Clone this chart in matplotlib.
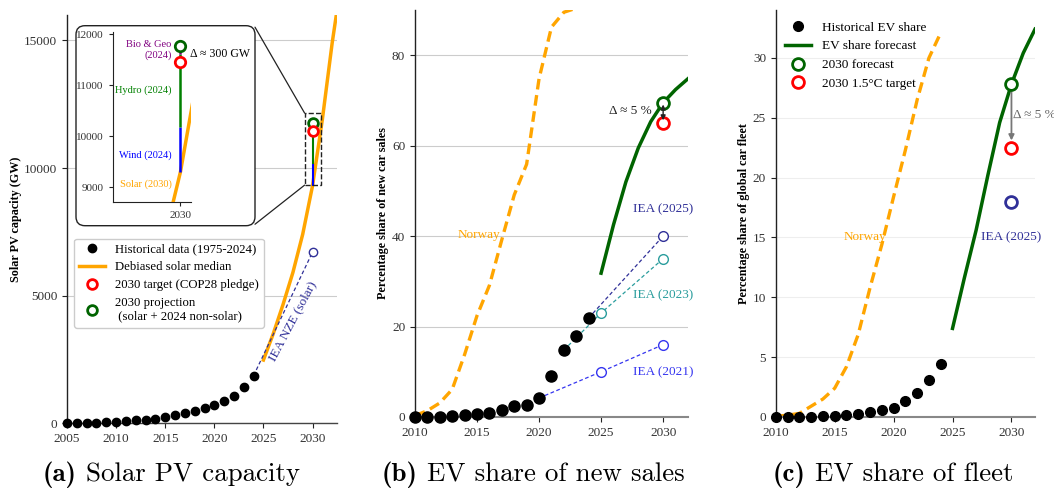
import matplotlib
matplotlib.use('Agg')
import matplotlib.pyplot as plt
from matplotlib.lines import Line2D
from matplotlib.patches import FancyBboxPatch, Rectangle, ConnectionPatch

plt.rcParams['font.family'] = ['Liberation Serif', 'DejaVu Serif']
plt.rcParams['mathtext.fontset'] = 'cm'

# ---------------- data ----------------
# Panel (a): solar PV capacity (GW)
solar_hist_years = list(range(2005, 2025))
solar_hist = [5, 6.5, 9, 15, 23, 40, 71, 100, 137, 175, 225, 300, 395, 490, 590, 710, 860, 1050, 1400, 1860]
solar_fc_years = list(range(2025, 2034))
solar_fc = [2470, 3500, 4650, 5900, 7400, 9300, 11900, 14900, 17500]
iea_nze_years = [2024, 2030]
iea_nze_vals = [1860, 6700]
cop28_target = 11450
solar_2030 = 9300
wind_2024 = 870
hydro_2024 = 1450
biogeo_2024 = 140

# Panel (b): EV share of new car sales (%)
ev_sales_years = list(range(2010, 2025))
ev_sales = [0.01, 0.05, 0.1, 0.2, 0.4, 0.7, 0.9, 1.5, 2.4, 2.6, 4.2, 9.1, 14.8, 17.9, 21.9]
ev_sales_fc_years = list(range(2025, 2033))
ev_sales_fc = [31.8, 42.5, 52.0, 59.5, 65.3, 69.5, 72.4, 74.8]
ev_sales_target = 65.0
norway_years = list(range(2010, 2025))
norway_sales = [0.3, 1.4, 3.1, 6.1, 13.8, 22.4, 29.1, 39.2, 49.1, 55.9, 74.8, 86.2, 89.5, 90.4, 92.0]
iea2025_years = [2024, 2030]
iea2025_sales = [21.9, 40.0]
iea2023_years = [2022, 2025, 2030]
iea2023_sales = [14.8, 23.0, 35.0]
iea2021_years = [2020, 2025, 2030]
iea2021_sales = [4.2, 10.0, 16.0]

# Panel (c): EV share of global car fleet (%)
ev_fleet_years = list(range(2010, 2025))
ev_fleet = [0.0, 0.01, 0.02, 0.04, 0.07, 0.12, 0.18, 0.25, 0.39, 0.58, 0.73, 1.3, 2.0, 3.1, 4.43]
ev_fleet_fc_years = list(range(2025, 2033))
ev_fleet_fc = [7.4, 11.6, 15.6, 20.2, 24.6, 27.8, 30.4, 32.4]
ev_fleet_target = 22.5
iea2025_fleet = 18.0
norway_fleet = [0.05, 0.15, 0.3, 0.9, 1.5, 2.4, 4.2, 6.9, 10.8, 14.4, 18.4, 22.3, 26.5, 30.0, 32.1]

captions = [('(a)', ' Solar PV capacity'), ('(b)', ' EV share of new sales'), ('(c)', ' EV share of fleet')]

# ---------------- colours ----------------
ORANGE = '#FFA500'
DGREEN = '#006400'
NAVY = '#303098'
TEAL = '#2a9d9d'
BLUE21 = '#3535f0'

W, H = 1054, 490
fig = plt.figure(figsize=(W / 100, H / 100), dpi=100)
axA = fig.add_axes([0.0636, 0.1367, 0.2562, 0.8327])
axB = fig.add_axes([0.3937, 0.149, 0.259, 0.8306])
axC = fig.add_axes([0.736, 0.149, 0.246, 0.8306])


def style(ax, gridcolor, bottom_color='#555555', bottom_lw=1.2):
    for s in ['top', 'right']:
        ax.spines[s].set_visible(False)
    ax.spines['left'].set_color('#222222')
    ax.spines['left'].set_linewidth(1.0)
    ax.spines['bottom'].set_color(bottom_color)
    ax.spines['bottom'].set_linewidth(bottom_lw)
    ax.tick_params(labelsize=9.5, colors='#222222', labelcolor='#333333', length=3.5, width=0.8)
    ax.grid(axis='y', color=gridcolor, lw=0.8)
    ax.set_axisbelow(True)


# ---------------- panel (a) ----------------
style(axA, '#cccccc', '#444444', 1.0)
axA.plot(solar_hist_years, solar_hist, 'o', color='black', ms=6, zorder=4, clip_on=False)
axA.plot(solar_fc_years, solar_fc, color=ORANGE, lw=2.5, zorder=3)
axA.plot(iea_nze_years, iea_nze_vals, '--', color=NAVY, lw=0.9, dashes=(3, 2), zorder=3)
axA.plot([iea_nze_years[-1]], [iea_nze_vals[-1]], 'o', mfc='white', mec=NAVY, ms=6, mew=1, zorder=4)
axA.text(2027.95, 4000, 'IEA NZE (solar)', color=NAVY, fontsize=9.5, rotation=62,
         ha='center', va='center', zorder=5)


def draw_stack(ax, ms, lw):
    ax.vlines(2030, solar_2030, solar_2030 + wind_2024, color='blue', lw=lw, zorder=3)
    ax.vlines(2030, solar_2030 + wind_2024, solar_2030 + wind_2024 + hydro_2024, color='green', lw=lw, zorder=3)
    ax.vlines(2030, solar_2030 + wind_2024 + hydro_2024,
              solar_2030 + wind_2024 + hydro_2024 + biogeo_2024, color='purple', lw=lw, zorder=3)
    total = solar_2030 + wind_2024 + hydro_2024 + biogeo_2024
    ax.plot([2030], [total], 'o', mfc='white', mec=DGREEN, ms=ms, mew=2, zorder=5)
    ax.plot([2030], [cop28_target], 'o', mfc='white', mec='red', ms=ms, mew=2, zorder=5)


draw_stack(axA, 7, 1.5)
axA.set_xlim(2005, 2032.5)
axA.set_ylim(0, 16000)
axA.set_xticks([2005, 2010, 2015, 2020, 2025, 2030])
axA.set_yticks([0, 5000, 10000, 15000])
axA.set_ylabel('Solar PV capacity (GW)', fontsize=8.7, fontweight='bold', labelpad=1.5)

# zoom rectangle
rx0, rx1, ry0, ry1 = 2029.2, 2030.9, 9330, 12150
axA.add_patch(Rectangle((rx0, ry0), rx1 - rx0, ry1 - ry0, fill=False, ls='--', lw=1.0,
                        ec='#222222', zorder=6))

# rounded box for inset (figure coords)
bx0, bx1 = 76 / W, 255 / W
by0, by1 = 1 - 225.7 / H, 1 - 25.7 / H
box = FancyBboxPatch((bx0, by0), bx1 - bx0, by1 - by0,
                     boxstyle='round,pad=0,rounding_size=0.0085', mutation_aspect=W / H,
                     transform=fig.transFigure, fc='white', ec='#222222', lw=1.0, zorder=7,
                     clip_on=False)
axA.add_patch(box)
for (fy, dy) in [(by1 - 0.003, ry1), (by0 + 0.003, ry0)]:
    cp = ConnectionPatch(xyA=(bx1, fy), coordsA=fig.transFigure, xyB=(rx0, dy), coordsB=axA.transData,
                         color='#222222', lw=0.9, zorder=6)
    axA.add_artist(cp)

# inset axes
axI = fig.add_axes([112.7 / W, 1 - 202.3 / H, 78.3 / W, 170.6 / H])
axI.set_facecolor('none')
for s in ['top', 'right']:
    axI.spines[s].set_visible(False)
axI.spines['left'].set_color('#222222')
axI.spines['bottom'].set_color('#222222')
axI.tick_params(labelsize=8, colors='#222222', labelcolor='#333333', length=3, width=0.8)
axI.plot(solar_fc_years, solar_fc, color=ORANGE, lw=2.5, zorder=3)
draw_stack(axI, 7.5, 1.8)
axI.set_xlim(2027.1, 2030.45)
axI.set_ylim(8700, 12050)
axI.set_xticks([2030])
axI.set_yticks([9000, 10000, 11000, 12000])
lx = 2029.62
axI.text(lx, 11690, 'Bio & Geo\n(2024)', color='purple', fontsize=7.5, ha='right', va='center',
         multialignment='right', linespacing=1.1)
axI.text(lx, 10900, 'Hydro (2024)', color='green', fontsize=7.5, ha='right', va='center')
axI.text(lx, 9620, 'Wind (2024)', color='blue', fontsize=7.5, ha='right', va='center')
axI.text(lx, 9050, 'Solar (2030)', color=ORANGE, fontsize=7.5, ha='right', va='center')
axI.text(2030.42, 11610, 'Δ ≈ 300 GW', color='black', fontsize=8.5, ha='left', va='center', clip_on=False)

# legend (a)
hA = [Line2D([], [], marker='o', ls='none', color='black', ms=6),
      Line2D([], [], color=ORANGE, lw=2.5),
      Line2D([], [], marker='o', ls='none', mfc='white', mec='red', ms=7, mew=2),
      Line2D([], [], marker='o', ls='none', mfc='white', mec=DGREEN, ms=7, mew=2)]
lA = ['Historical data (1975-2024)', 'Debiased solar median', '2030 target (COP28 pledge)',
      '2030 projection\n (solar + 2024 non-solar)']
legA = axA.legend(hA, lA, loc='upper left', bbox_to_anchor=(0.026, 0.452), borderaxespad=0,
                  fontsize=9.2, frameon=True, framealpha=1, edgecolor='#cccccc', fancybox=True,
                  handlelength=2.0, labelspacing=0.45, borderpad=0.4)
legA.set_zorder(8)

# ---------------- panel (b) ----------------
style(axB, '#cccccc', '#888888', 1.5)
axB.plot(norway_years, norway_sales, color=ORANGE, lw=2.4, dashes=(3.2, 1.7), zorder=2)
axB.text(2016.85, 40.3, 'Norway', color=ORANGE, fontsize=9.5, ha='right', va='center')
axB.plot(iea2025_years, iea2025_sales, color=NAVY, lw=0.9, dashes=(3, 2), zorder=3)
axB.plot(iea2025_years[1:], iea2025_sales[1:], 'o', mfc='white', mec=NAVY, ms=7, mew=1, zorder=4)
axB.plot(iea2023_years, iea2023_sales, color=TEAL, lw=0.9, dashes=(3, 2), zorder=3)
axB.plot(iea2023_years[1:], iea2023_sales[1:], 'o', mfc='white', mec=TEAL, ms=7, mew=1, zorder=4)
axB.plot(iea2021_years, iea2021_sales, color=BLUE21, lw=0.9, dashes=(3, 2), zorder=3)
axB.plot(iea2021_years[1:], iea2021_sales[1:], 'o', mfc='white', mec=BLUE21, ms=7, mew=1, zorder=4)
axB.plot(ev_sales_years, ev_sales, 'o', color='black', ms=8, zorder=5, clip_on=False)
axB.plot(ev_sales_fc_years, ev_sales_fc, color=DGREEN, lw=2.5, zorder=4)
axB.plot([2030], [ev_sales_fc[5]], 'o', mfc='white', mec=DGREEN, ms=8.5, mew=2, zorder=6)
axB.plot([2030], [ev_sales_target], 'o', mfc='white', mec='red', ms=8.5, mew=2, zorder=6)
axB.annotate('', xy=(2030, ev_sales_target + 0.6), xytext=(2030, ev_sales_fc[5] - 0.4),
             arrowprops=dict(arrowstyle='<|-|>', color='#222222', lw=1, mutation_scale=7,
                             shrinkA=0, shrinkB=0), zorder=7)
axB.text(2029.1, 67.6, 'Δ ≈ 5 %', color='#222222', fontsize=9.5, ha='right', va='center')
axB.text(2030, 46, 'IEA (2025)', color=NAVY, fontsize=9.5, ha='center', va='center')
axB.text(2030, 26.9, 'IEA (2023)', color=TEAL, fontsize=9.5, ha='center', va='center')
axB.text(2030, 9.9, 'IEA (2021)', color=BLUE21, fontsize=9.5, ha='center', va='center')
axB.set_xlim(2010, 2032)
axB.set_ylim(0, 90)
axB.set_xticks([2010, 2015, 2020, 2025, 2030])
axB.set_yticks([0, 20, 40, 60, 80])
axB.set_ylabel('Percentage share of new car sales', fontsize=8.7, fontweight='bold', labelpad=2.5)

# ---------------- panel (c) ----------------
style(axC, '#eeeeee', '#888888', 1.5)
axC.plot(norway_years, norway_fleet, color=ORANGE, lw=2.4, dashes=(3.2, 1.7), zorder=2)
axC.text(2019.4, 15, 'Norway', color=ORANGE, fontsize=9.5, ha='right', va='center')
axC.plot(ev_fleet_years, ev_fleet, 'o', color='black', ms=7, zorder=5, clip_on=False)
axC.plot(ev_fleet_fc_years, ev_fleet_fc, color=DGREEN, lw=2.5, zorder=4)
axC.plot([2030], [ev_fleet_fc[5]], 'o', mfc='white', mec=DGREEN, ms=8.5, mew=2, zorder=6)
axC.plot([2030], [ev_fleet_target], 'o', mfc='white', mec='red', ms=8.5, mew=2, zorder=6)
axC.plot([2030], [iea2025_fleet], 'o', mfc='white', mec=NAVY, ms=8.5, mew=2, zorder=6)
axC.annotate('', xy=(2030, ev_fleet_target + 0.6), xytext=(2030, ev_fleet_fc[5] - 0.6),
             arrowprops=dict(arrowstyle='-|>', color='#777777', lw=1.3, mutation_scale=8,
                             shrinkA=0, shrinkB=0), zorder=5)
axC.text(2030.14, 25.2, 'Δ ≈ 5 %', color='#666666', fontsize=9.5, ha='left', va='center', clip_on=False)
axC.text(2029.95, 15.0, 'IEA (2025)', color=NAVY, fontsize=9.5, ha='center', va='center')
axC.set_xlim(2010, 2032)
axC.set_ylim(0, 34)
axC.set_xticks([2010, 2015, 2020, 2025, 2030])
axC.set_yticks([0, 5, 10, 15, 20, 25, 30])
axC.set_ylabel('Percentage share of global car fleet', fontsize=8.7, fontweight='bold', labelpad=2)

hC = [Line2D([], [], marker='o', ls='none', color='black', ms=7),
      Line2D([], [], color=DGREEN, lw=2.5),
      Line2D([], [], marker='o', ls='none', mfc='white', mec=DGREEN, ms=8.5, mew=2),
      Line2D([], [], marker='o', ls='none', mfc='white', mec='red', ms=8.5, mew=2)]
lC = ['Historical EV share', 'EV share forecast', '2030 forecast', '2030 1.5°C target']
axC.legend(hC, lC, loc='upper left', bbox_to_anchor=(0.0, 0.995), borderaxespad=0.3,
           fontsize=9.5, frameon=False, handlelength=2.0, labelspacing=0.5)

# ---------------- captions ----------------
cap_left = [43, 382, 773]
cap_base = 1 - 481 / H
renderer = fig.canvas.get_renderer()
for x0, (bold, rest) in zip(cap_left, captions):
    t1 = fig.text(x0 / W, cap_base, bold, fontfamily='cmb10', fontsize=19.4, ha='left', va='baseline')
    bb = t1.get_window_extent(renderer=renderer)
    fig.text(bb.x1 / W, cap_base, rest, fontfamily='cmr10', fontsize=19.4, ha='left', va='baseline')

fig.savefig('out.png', dpi=100)
